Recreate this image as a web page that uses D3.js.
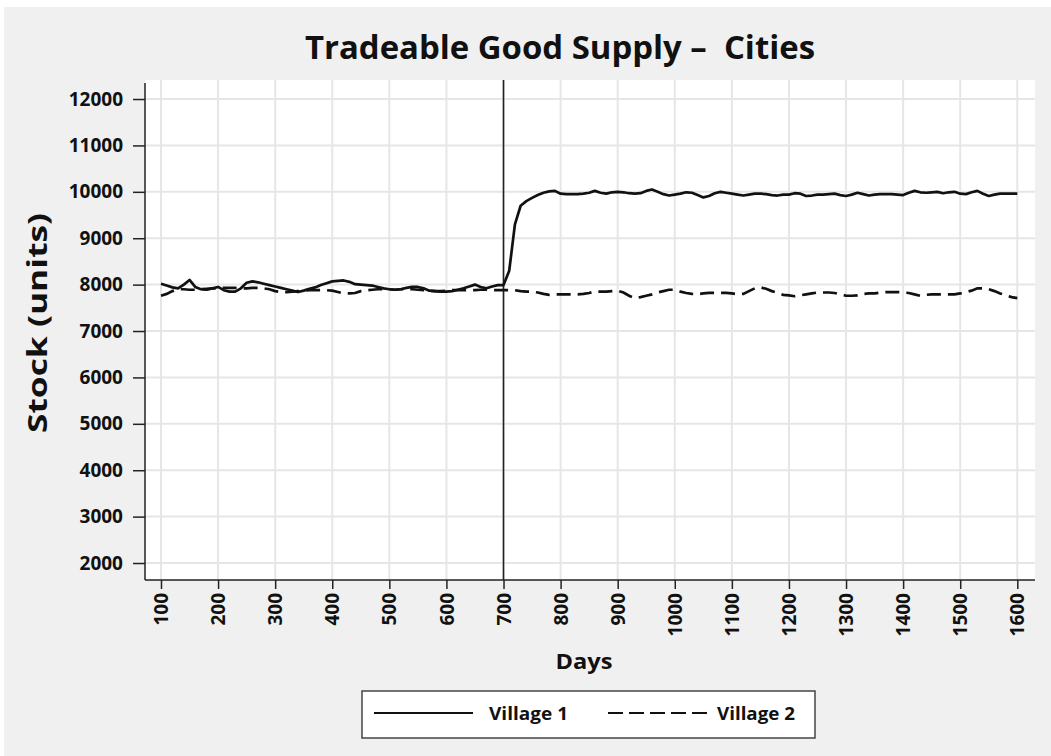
<!DOCTYPE html>
<html>
<head>
<meta charset="utf-8">
<script src="https://cdn.jsdelivr.net/npm/d3@7"></script>
<style>
  html, body { margin: 0; padding: 0; background: #ffffff; }
  svg { display: block; }
  text { font-family: "Open Sans", Lato, sans-serif; font-weight: bold; fill: #111; }
</style>
</head>
<body>
<svg id="chart" width="1051" height="756"></svg>
<script>
// ---------- DATA ----------
const days = [
  100,110,120,130,140,150,160,170,180,190,200,210,220,230,240,250,260,270,280,290,
  300,310,320,330,340,350,360,370,380,390,400,410,420,430,440,450,460,470,480,490,
  500,510,520,530,540,550,560,570,580,590,600,610,620,630,640,650,660,670,680,690,
  700,710,720,730,740,750,760,770,780,790,800,810,820,830,840,850,860,870,880,890,
  900,910,920,930,940,950,960,970,980,990,1000,1010,1020,1030,1040,1050,1060,1070,1080,1090,
  1100,1110,1120,1130,1140,1150,1160,1170,1180,1190,1200,1210,1220,1230,1240,1250,1260,1270,1280,1290,
  1300,1310,1320,1330,1340,1350,1360,1370,1380,1390,1400,1410,1420,1430,1440,1450,1460,1470,1480,1490,
  1500,1510,1520,1530,1540,1550,1560,1570,1580,1590,1600
];
const village1 = [
  8020,7980,7940,7920,8000,8100,7950,7900,7890,7920,7950,7880,7850,7850,7920,8040,8070,8050,8020,7990,
  7960,7930,7900,7870,7840,7870,7910,7940,7990,8030,8070,8080,8090,8060,8010,8000,7990,7980,7950,7920,
  7900,7890,7900,7930,7950,7950,7920,7870,7860,7850,7850,7860,7890,7920,7960,8000,7950,7920,7960,7990,
  7990,8300,9300,9700,9800,9870,9930,9980,10010,10020,9960,9950,9950,9950,9960,9980,10020,9980,9960,9990,
  10000,9990,9970,9960,9970,10020,10050,10000,9950,9920,9940,9960,9990,9980,9930,9880,9910,9970,10000,9980,
  9960,9940,9920,9940,9960,9960,9950,9930,9920,9940,9940,9970,9960,9910,9920,9940,9940,9950,9960,9930,
  9910,9940,9980,9950,9920,9940,9950,9950,9950,9940,9930,9980,10020,9990,9980,9990,10000,9970,9990,10000,
  9960,9950,9990,10020,9960,9910,9940,9960,9960,9960,9960
];
const village2 = [
  7760,7800,7860,7900,7900,7890,7890,7900,7910,7920,7920,7930,7930,7930,7920,7920,7930,7930,7920,7900,
  7860,7840,7840,7850,7860,7870,7880,7880,7880,7880,7870,7840,7810,7810,7820,7860,7880,7890,7900,7900,
  7900,7890,7900,7910,7900,7890,7880,7870,7860,7860,7870,7880,7880,7880,7880,7880,7890,7890,7880,7880,
  7880,7880,7880,7860,7850,7850,7830,7800,7780,7790,7790,7790,7790,7790,7800,7820,7850,7850,7850,7860,
  7870,7830,7760,7710,7730,7760,7790,7830,7860,7890,7890,7850,7820,7800,7790,7810,7820,7820,7820,7820,
  7810,7790,7800,7860,7920,7940,7910,7860,7820,7780,7770,7750,7770,7790,7810,7830,7830,7830,7820,7790,
  7760,7760,7770,7800,7810,7810,7830,7840,7840,7840,7830,7820,7790,7760,7780,7790,7790,7790,7790,7790,
  7810,7840,7870,7920,7920,7900,7860,7810,7770,7730,7710
];
const xTicks = [100,200,300,400,500,600,700,800,900,1000,1100,1200,1300,1400,1500,1600];
const yTicks = [2000,3000,4000,5000,6000,7000,8000,9000,10000,11000,12000];
const eventDay = [700];
const seriesNames = ["Village 1", "Village 2"];
const titleText = "Tradeable Good Supply \u2013  Cities";
const xLabel = "Days";
const yLabel = "Stock (units)";

// ---------- LAYOUT ----------
const svg = d3.select("#chart");
const W = 1051, H = 756;
const plot = { left: 145, right: 1035, top: 80, bottom: 580 };

svg.append("rect").attr("x", 4).attr("y", 7).attr("width", W - 4).attr("height", H - 7).attr("fill", "#f0f0f0");

const x = d3.scaleLinear().domain([72, 1631]).range([plot.left, plot.right]);
const y = d3.scaleLinear().domain([1634, 12410]).range([plot.bottom, plot.top]);

// plot background
svg.append("rect")
  .attr("x", plot.left).attr("y", plot.top)
  .attr("width", plot.right - plot.left).attr("height", plot.bottom - plot.top)
  .attr("fill", "#ffffff");

// grid
const grid = svg.append("g");
grid.selectAll(".vg").data(xTicks).join("line")
  .attr("x1", d => x(d)).attr("x2", d => x(d))
  .attr("y1", plot.top).attr("y2", plot.bottom)
  .attr("stroke", "#e6e6e6").attr("stroke-width", 2);
grid.selectAll(".hg").data(yTicks).join("line")
  .attr("x1", plot.left).attr("x2", plot.right)
  .attr("y1", d => y(d)).attr("y2", d => y(d))
  .attr("stroke", "#e6e6e6").attr("stroke-width", 2);

const tickFont = sel => sel.style("font-size", "19px").style("font-family", "'Open Sans', Lato, sans-serif")
  .style("font-weight", "bold").attr("fill", "#111");

// axes
const yAxis = d3.axisLeft(y).tickValues(yTicks).tickSize(12).tickPadding(10).tickFormat(d3.format("d"));
const gy = svg.append("g").attr("transform", `translate(${plot.left},0)`).call(yAxis);
gy.select(".domain").attr("d", `M0,${plot.top + 3}V${plot.bottom}`).attr("stroke", "#222").attr("stroke-width", 1.5);
gy.selectAll(".tick line").attr("stroke", "#222").attr("stroke-width", 1.5);
gy.selectAll(".tick text").call(tickFont);

const xAxis = d3.axisBottom(x).tickValues(xTicks).tickSize(9).tickFormat(d3.format("d"));
const gx = svg.append("g").attr("transform", `translate(0,${plot.bottom})`).call(xAxis);
gx.select(".domain").attr("d", `M${plot.left},0H${plot.right}`).attr("stroke", "#222").attr("stroke-width", 1.5);
gx.selectAll(".tick line").attr("stroke", "#222").attr("stroke-width", 1.5);
gx.selectAll(".tick text")
  .attr("transform", "translate(0,13) rotate(-90)")
  .attr("x", 0).attr("y", 0).attr("dy", "0.35em")
  .attr("text-anchor", "end")
  .call(tickFont);

// event line
svg.selectAll(".ev").data(eventDay).join("line")
  .attr("x1", d => x(d)).attr("x2", d => x(d))
  .attr("y1", plot.top).attr("y2", plot.bottom)
  .attr("stroke", "#222").attr("stroke-width", 1.6);

// series
const line = d3.line().x((d, i) => x(days[i])).y(d => y(d));
svg.append("path").datum(village2).attr("d", line)
  .attr("fill", "none").attr("stroke", "#111").attr("stroke-width", 2.7)
  .attr("stroke-dasharray", "14,7");
svg.append("path").datum(village1).attr("d", line)
  .attr("fill", "none").attr("stroke", "#111").attr("stroke-width", 2.7)
  .attr("stroke-linejoin", "round");

// title and labels
svg.append("text").attr("x", 560).attr("y", 59).attr("text-anchor", "middle")
  .style("font-size", "32px").style("white-space", "pre")
  .attr("textLength", 510).attr("lengthAdjust", "spacingAndGlyphs")
  .text(titleText);
svg.append("text").attr("x", 584).attr("y", 669).attr("text-anchor", "middle")
  .style("font-size", "21px").attr("textLength", 57).attr("lengthAdjust", "spacingAndGlyphs")
  .text(xLabel);
svg.append("text").attr("transform", "translate(47,323) rotate(-90)").attr("text-anchor", "middle")
  .style("font-size", "26px").attr("textLength", 220).attr("lengthAdjust", "spacingAndGlyphs")
  .text(yLabel);

// legend
const lg = svg.append("g");
lg.append("rect").attr("x", 362).attr("y", 691).attr("width", 453).attr("height", 47)
  .attr("fill", "#ffffff").attr("stroke", "#444").attr("stroke-width", 1.5);
lg.append("line").attr("x1", 374).attr("x2", 473).attr("y1", 713).attr("y2", 713)
  .attr("stroke", "#111").attr("stroke-width", 2);
lg.append("text").attr("x", 489).attr("y", 720).style("font-size", "18px")
  .attr("textLength", 79).attr("lengthAdjust", "spacingAndGlyphs").text(seriesNames[0]);
lg.append("line").attr("x1", 608).attr("x2", 708).attr("y1", 713).attr("y2", 713)
  .attr("stroke", "#111").attr("stroke-width", 2).attr("stroke-dasharray", "15,6");
lg.append("text").attr("x", 717).attr("y", 720).style("font-size", "18px")
  .attr("textLength", 78).attr("lengthAdjust", "spacingAndGlyphs").text(seriesNames[1]);
</script>
</body>
</html>
